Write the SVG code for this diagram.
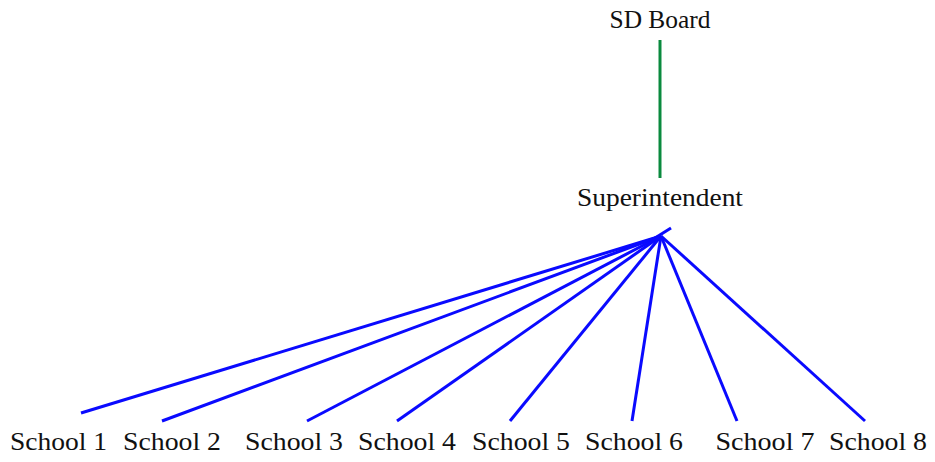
<svg xmlns="http://www.w3.org/2000/svg" width="935" height="462" viewBox="0 0 935 462">
<style>
text{font-family:"Liberation Serif","Times New Roman",serif;font-size:26px;fill:#111;text-anchor:middle}
.b{stroke:#0a0aff;stroke-width:3;fill:none;stroke-linecap:butt}
.g{stroke:#0a8a3e;stroke-width:3;fill:none}
</style>
<rect width="935" height="462" fill="#fff"/>
<g id="connectors">
<line class="g" x1="660" y1="40" x2="660" y2="178"/>
<line class="b" x1="655" y1="238" x2="671" y2="228"/>
<line class="b" x1="81" y1="413" x2="661" y2="236"/>
<line class="b" x1="162" y1="421" x2="661" y2="236"/>
<line class="b" x1="307" y1="421" x2="661" y2="236"/>
<line class="b" x1="397" y1="421" x2="661" y2="236"/>
<line class="b" x1="510" y1="421" x2="661" y2="236"/>
<line class="b" x1="632" y1="421" x2="661" y2="236"/>
<line class="b" x1="737" y1="421" x2="661" y2="236"/>
<line class="b" x1="865" y1="421" x2="661" y2="236"/>
</g>
<g id="sdboard"><text x="660" y="28" textLength="101" lengthAdjust="spacingAndGlyphs">SD Board</text></g>
<g id="superintendent"><text x="660" y="206" textLength="166" lengthAdjust="spacingAndGlyphs">Superintendent</text></g>
<g id="school1"><text x="58.5" y="450" textLength="97" lengthAdjust="spacingAndGlyphs">School 1</text></g>
<g id="school2"><text x="172" y="450" textLength="98" lengthAdjust="spacingAndGlyphs">School 2</text></g>
<g id="school3"><text x="294" y="450" textLength="98" lengthAdjust="spacingAndGlyphs">School 3</text></g>
<g id="school4"><text x="407" y="450" textLength="98" lengthAdjust="spacingAndGlyphs">School 4</text></g>
<g id="school5"><text x="521" y="450" textLength="98" lengthAdjust="spacingAndGlyphs">School 5</text></g>
<g id="school6"><text x="634" y="450" textLength="98" lengthAdjust="spacingAndGlyphs">School 6</text></g>
<g id="school7"><text x="765" y="450" textLength="99" lengthAdjust="spacingAndGlyphs">School 7</text></g>
<g id="school8"><text x="878" y="450" textLength="98" lengthAdjust="spacingAndGlyphs">School 8</text></g>
</svg>
